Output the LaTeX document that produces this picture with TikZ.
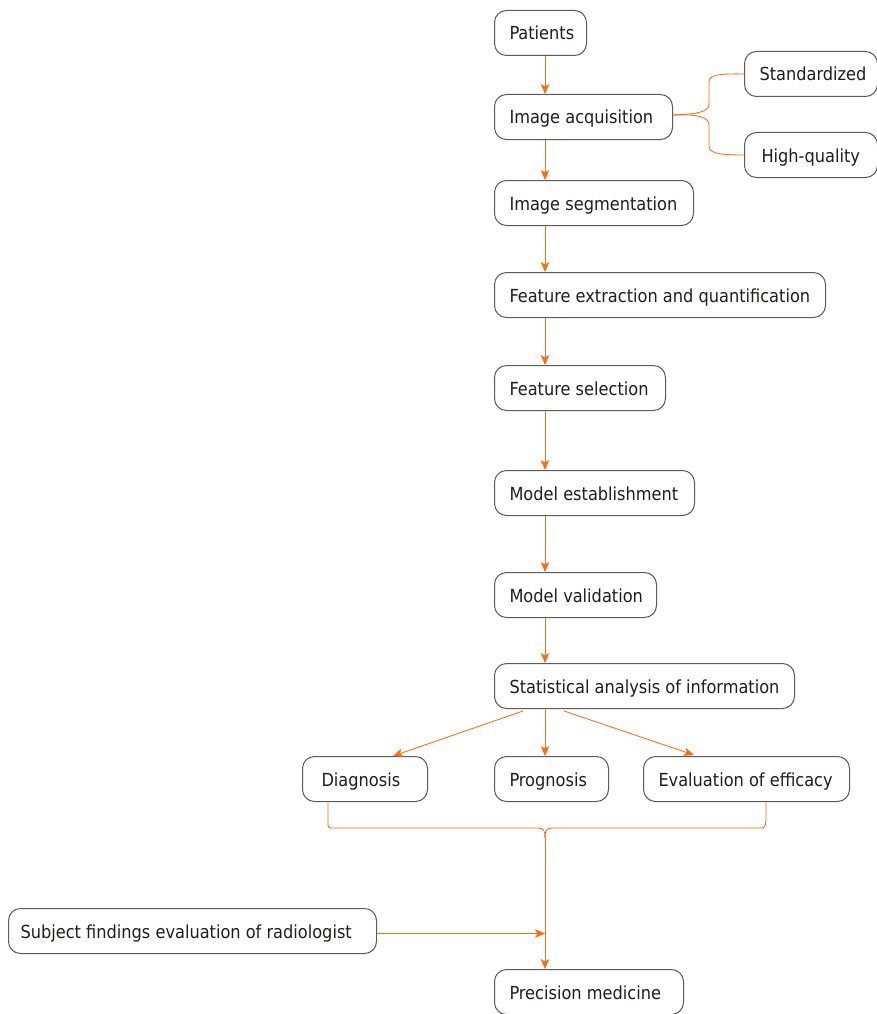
\documentclass[tikz,border=0pt]{standalone}
\usepackage{fontspec}
\setmainfont{DejaVu Sans Condensed}
\usetikzlibrary{arrows.meta,calc}
\definecolor{orng}{RGB}{252,108,20}
\definecolor{boxgray}{RGB}{95,90,90}
\definecolor{txt}{RGB}{35,28,28}
\newcommand{\lbl}[2]{\makebox[#1][l]{#2}}
\tikzset{
  box/.style={draw=boxgray, line width=1pt, rounded corners=12pt, anchor=north west,
    minimum height=45pt, inner xsep=15pt, inner ysep=0pt, text height=15pt, text depth=1pt,
    text=txt, font=\fontsize{18}{20}\selectfont},
  ln/.style={draw=orng, line width=0.85pt},
  arr/.style={ln, -{Stealth[length=10pt,width=8.5pt,inset=2.5pt]}}
}
\begin{document}
\begin{tikzpicture}[x=1pt,y=-1pt]
\useasboundingbox (0,0) rectangle (877,1014);
\fill[white] (0,0) rectangle (877,1014);
\coordinate (ax) at (545,0);
\node[box] (pat) at (494,10) {\lbl{62pt}{Patients}};
\node[box] (ia) at (494,94) {\lbl{148pt}{Image acquisition}};
\node[box] (std) at (744,51) {\lbl{103pt}{Standardized}};
\node[box] (hq) at (744,132) {\lbl{103pt}{\hspace{2pt}High-quality}};
\node[box] (seg) at (494,180) {\lbl{169pt}{Image segmentation}};
\node[box] (fe) at (494,272) {\lbl{301pt}{Feature extraction and quantification}};
\node[box] (fs) at (494,365) {\lbl{141pt}{Feature selection}};
\node[box] (me) at (494,470) {\lbl{170pt}{Model establishment}};
\node[box] (mv) at (494,572) {\lbl{132pt}{Model validation}};
\node[box] (sa) at (494,663) {\lbl{270pt}{Statistical analysis of information}};
\node[box, inner xsep=19pt] (dg) at (302,756) {\lbl{87pt}{Diagnosis}};
\node[box] (pg) at (494,756) {\lbl{84pt}{Prognosis}};
\node[box] (ev) at (643,756) {\lbl{176pt}{Evaluation of efficacy}};
\node[box, inner xsep=12pt] (sf) at (8,908) {\lbl{344pt}{Subject findings evaluation of radiologist}};
\node[box] (pm) at (494,969) {\lbl{159pt}{Precision medicine}};
% main chain
\draw[arr] (pat.south west -| ax) -- (ia.north west -| ax);
\draw[arr] (ia.south west -| ax) -- (seg.north west -| ax);
\draw[arr] (seg.south west -| ax) -- (fe.north west -| ax);
\draw[arr] (fe.south west -| ax) -- (fs.north west -| ax);
\draw[arr] (fs.south west -| ax) -- (me.north west -| ax);
\draw[arr] (me.south west -| ax) -- (mv.north west -| ax);
\draw[arr] (mv.south west -| ax) -- (sa.north west -| ax);
% acquisition brace
\coordinate (iae) at ($(ia.east)+(0,-2)$);
\draw[ln] (iae) .. controls (697,114) and (709,112) .. (709,104) -- (709,82)
  .. controls (709,75) and (718,73.5) .. (std.west);
\draw[ln] (iae) .. controls (697,114) and (709,117) .. (709,125) -- (709,146)
  .. controls (709,153) and (718,155) .. (hq.west);
% statistical analysis outputs
\draw[arr] ($(sa.south west)+(29,2)$) -- ($(dg.north west)+(91,0)$);
\draw[arr] (sa.south west -| ax) -- (pg.north west -| ax);
\draw[arr] ($(sa.south west)+(70,2)$) -- ($(ev.north west)+(51,-1)$);
% bottom brace
\coordinate (cusp) at (545,838);
\draw[ln] ($(dg.south west)+(26,0)$) -- (328,822) .. controls (328,828) .. (334,828) -- (538,828)
  .. controls (544,828) and (545,831) .. (cusp);
\draw[ln] ($(ev.south west)+(123,0)$) -- (766,820) .. controls (765,828) .. (758,828) -- (552,828)
  .. controls (546,828) and (545,831) .. (cusp);
\draw[arr] (cusp) -- (pm.north west -| cusp);
\draw[arr] ($(sf.east)+(0,2.5)$) -- ($(sf.east -| ax)+(0,2.5)$);
\end{tikzpicture}
\end{document}
